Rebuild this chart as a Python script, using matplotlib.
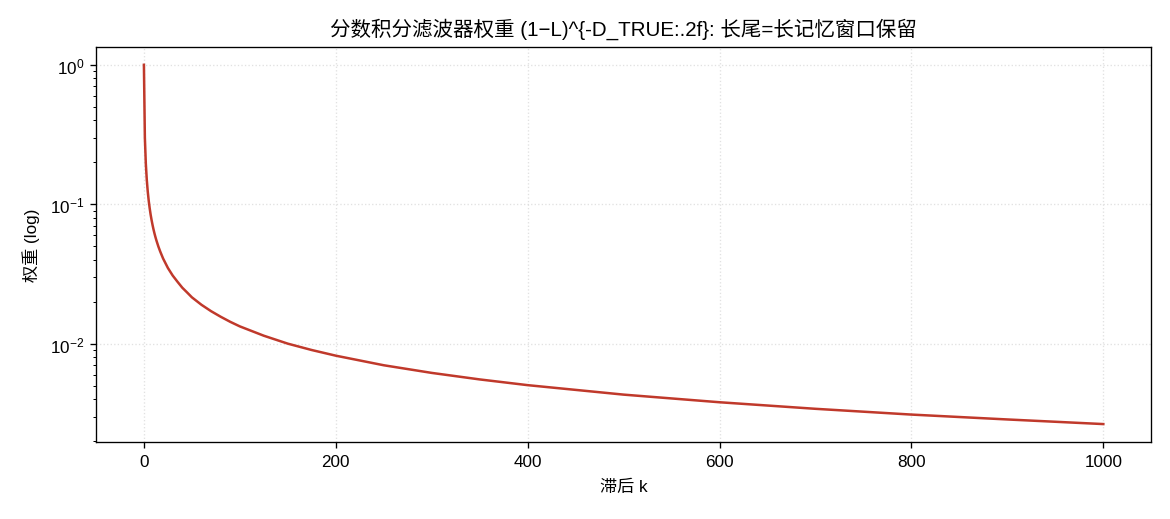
import matplotlib
matplotlib.use("Agg")
import matplotlib.pyplot as plt

plt.rcParams["font.family"] = ["Liberation Sans", "Noto Sans CJK SC", "DejaVu Sans"]
plt.rcParams["axes.unicode_minus"] = True

# lag k and filter weight
lags = [0, 1, 2, 3, 4, 5, 6, 7, 8, 9, 10, 11, 12, 13, 15, 17, 20, 25, 30, 35,
        40, 45, 50, 60, 70, 80, 90, 100, 125, 150, 175, 200, 250, 300, 350,
        400, 500, 600, 700, 800, 900, 1000]
weights = [1.0, 0.3, 0.195, 0.1495, 0.1233, 0.1061, 0.0937, 0.0843, 0.0770,
           0.0710, 0.0660, 0.0618, 0.0582, 0.0551, 0.0499, 0.0458, 0.0408,
           0.0349, 0.0308, 0.0278, 0.0252, 0.0233, 0.0215, 0.0190, 0.0171,
           0.0156, 0.01434, 0.0133, 0.0114, 0.0100, 0.0090, 0.0082, 0.0070,
           0.00617, 0.00554, 0.00504, 0.00431, 0.00380, 0.00341, 0.00310,
           0.00286, 0.00265]

title = "分数积分滤波器权重 (1−L)^{-D_TRUE:.2f}: 长尾=长记忆窗口保留"

fig, ax = plt.subplots(figsize=(9.75, 4.3333), dpi=120)
ax.plot(lags, weights, color="#c0392b", linewidth=1.5)
ax.set_yscale("log")
ax.set_title(title, fontsize=12.3, pad=7)
ax.set_xlabel("滞后 k", fontsize=10.3, labelpad=6)
ax.set_ylabel("权重 (log)", fontsize=10.3, labelpad=6)
ax.tick_params(labelsize=10.3)
ax.grid(True, linestyle=":", color="#d5d5d5", alpha=0.7)
fig.subplots_adjust(left=0.082, right=0.984, top=0.908, bottom=0.148)
plt.savefig("out.png")
